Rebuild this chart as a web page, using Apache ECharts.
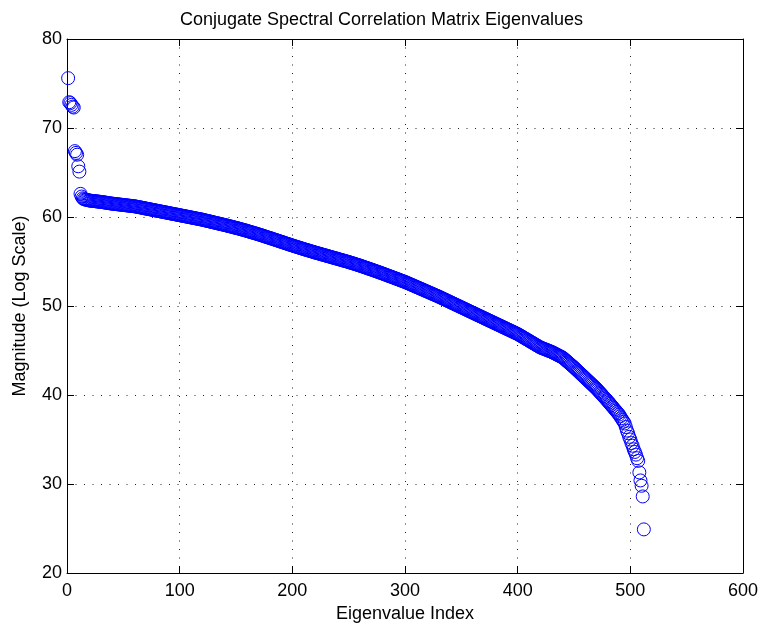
<!DOCTYPE html>
<html>
<head>
<meta charset="utf-8">
<script src="https://cdn.jsdelivr.net/npm/echarts@6/dist/echarts.min.js"></script>
<style>
html,body{margin:0;padding:0;background:#fff;}
#chart{width:763px;height:629px;}
</style>
</head>
<body>
<div id="chart"></div>
<script>
// ---- data ----
const chartTitle = 'Conjugate Spectral Correlation Matrix Eigenvalues';
const xAxisTitle = 'Eigenvalue Index';
const yAxisTitle = 'Magnitude (Log Scale)';
const xTicks = [0, 100, 200, 300, 400, 500, 600];
const yTicks = [20, 30, 40, 50, 60, 70, 80];
// eigenvalue magnitudes, in order of eigenvalue index 1..512
const magnitudes = [
 75.6, 72.9, 72.8, 72.6, 72.4, 72.3, 67.4, 67.2, 67.0, 65.7,
 65.1, 62.6, 62.3, 62.1, 62.0, 61.97, 61.94, 61.91, 61.88, 61.85,
 61.83, 61.82, 61.80, 61.79, 61.77, 61.76, 61.74, 61.73, 61.71, 61.70,
 61.68, 61.66, 61.64, 61.62, 61.60, 61.58, 61.56, 61.54, 61.52, 61.50,
 61.49, 61.47, 61.46, 61.44, 61.43, 61.41, 61.40, 61.38, 61.37, 61.35,
 61.34, 61.32, 61.31, 61.29, 61.28, 61.26, 61.25, 61.23, 61.22, 61.20,
 61.18, 61.15, 61.13, 61.10, 61.08, 61.05, 61.03, 61.00, 60.98, 60.95,
 60.93, 60.90, 60.88, 60.85, 60.83, 60.80, 60.78, 60.75, 60.73, 60.70,
 60.68, 60.65, 60.63, 60.60, 60.58, 60.55, 60.53, 60.50, 60.48, 60.45,
 60.43, 60.40, 60.38, 60.35, 60.33, 60.30, 60.28, 60.25, 60.23, 60.20,
 60.18, 60.15, 60.13, 60.10, 60.08, 60.05, 60.03, 60.00, 59.98, 59.95,
 59.93, 59.90, 59.88, 59.85, 59.83, 59.80, 59.78, 59.75, 59.73, 59.70,
 59.67, 59.64, 59.61, 59.58, 59.55, 59.52, 59.49, 59.46, 59.43, 59.40,
 59.37, 59.34, 59.31, 59.28, 59.25, 59.22, 59.19, 59.16, 59.13, 59.10,
 59.07, 59.04, 59.00, 58.97, 58.94, 58.91, 58.88, 58.84, 58.81, 58.78,
 58.75, 58.71, 58.68, 58.64, 58.61, 58.57, 58.54, 58.50, 58.47, 58.43,
 58.39, 58.35, 58.31, 58.28, 58.24, 58.20, 58.16, 58.13, 58.09, 58.05,
 58.01, 57.97, 57.93, 57.89, 57.85, 57.80, 57.76, 57.72, 57.68, 57.64,
 57.60, 57.56, 57.51, 57.47, 57.43, 57.39, 57.35, 57.30, 57.26, 57.22,
 57.18, 57.14, 57.09, 57.05, 57.01, 56.97, 56.93, 56.88, 56.84, 56.80,
 56.76, 56.72, 56.68, 56.64, 56.60, 56.56, 56.52, 56.48, 56.44, 56.40,
 56.36, 56.32, 56.29, 56.25, 56.21, 56.17, 56.13, 56.10, 56.06, 56.02,
 55.98, 55.95, 55.91, 55.88, 55.84, 55.80, 55.77, 55.73, 55.70, 55.66,
 55.62, 55.59, 55.55, 55.52, 55.48, 55.44, 55.41, 55.37, 55.34, 55.30,
 55.26, 55.23, 55.19, 55.16, 55.12, 55.08, 55.05, 55.01, 54.98, 54.94,
 54.90, 54.86, 54.82, 54.78, 54.74, 54.70, 54.66, 54.62, 54.58, 54.54,
 54.50, 54.45, 54.41, 54.36, 54.32, 54.28, 54.23, 54.19, 54.14, 54.10,
 54.06, 54.01, 53.97, 53.92, 53.88, 53.83, 53.79, 53.74, 53.70, 53.65,
 53.60, 53.56, 53.51, 53.46, 53.41, 53.37, 53.32, 53.27, 53.23, 53.18,
 53.13, 53.08, 53.04, 52.99, 52.94, 52.89, 52.84, 52.80, 52.75, 52.70,
 52.65, 52.59, 52.54, 52.48, 52.43, 52.37, 52.32, 52.26, 52.21, 52.15,
 52.10, 52.04, 51.99, 51.93, 51.88, 51.82, 51.77, 51.71, 51.66, 51.60,
 51.55, 51.49, 51.44, 51.38, 51.33, 51.27, 51.22, 51.16, 51.11, 51.05,
 50.99, 50.93, 50.87, 50.81, 50.75, 50.69, 50.63, 50.57, 50.51, 50.45,
 50.39, 50.33, 50.27, 50.21, 50.15, 50.09, 50.03, 49.97, 49.91, 49.85,
 49.79, 49.73, 49.67, 49.61, 49.55, 49.49, 49.43, 49.37, 49.31, 49.25,
 49.19, 49.13, 49.07, 49.01, 48.95, 48.89, 48.83, 48.77, 48.71, 48.65,
 48.59, 48.53, 48.47, 48.41, 48.35, 48.29, 48.23, 48.17, 48.11, 48.05,
 47.99, 47.93, 47.87, 47.81, 47.75, 47.69, 47.63, 47.57, 47.51, 47.45,
 47.39, 47.33, 47.27, 47.21, 47.15, 47.09, 47.03, 46.97, 46.91, 46.85,
 46.78, 46.70, 46.63, 46.55, 46.48, 46.40, 46.33, 46.25, 46.18, 46.10,
 46.03, 45.95, 45.88, 45.80, 45.73, 45.65, 45.58, 45.50, 45.43, 45.35,
 45.30, 45.25, 45.20, 45.15, 45.10, 45.05, 45.00, 44.95, 44.90, 44.85,
 44.79, 44.72, 44.66, 44.59, 44.53, 44.46, 44.40, 44.33, 44.27, 44.20,
 44.09, 43.98, 43.87, 43.76, 43.65, 43.54, 43.43, 43.32, 43.21, 43.10,
 42.98, 42.86, 42.74, 42.62, 42.50, 42.38, 42.26, 42.14, 42.02, 41.90,
 41.78, 41.66, 41.54, 41.42, 41.30, 41.18, 41.06, 40.94, 40.82, 40.70,
 40.56, 40.42, 40.28, 40.14, 40.00, 39.86, 39.72, 39.58, 39.44, 39.30,
 39.15, 39.00, 38.85, 38.70, 38.55, 38.40, 38.25, 38.10, 37.95, 37.80,
 37.6, 37.4, 37.2, 37.0, 36.8, 36.4, 36.0, 35.7, 35.3, 35.0,
 34.6, 34.3, 33.9, 33.6, 33.3, 32.9, 32.6, 31.3, 30.4, 29.8,
 28.6, 24.9
];

// ---- chart ----
const points = magnitudes.map((v, i) => [i + 1, v]);
const FONT = '"Liberation Sans", Arial, Helvetica, sans-serif';
const chart = echarts.init(document.getElementById('chart'), null, {renderer: 'canvas'});

const gridDash = {color: '#222', width: 1, type: [1, 7.5]};
function baseAxis(extra) {
  return Object.assign({
    type: 'value',
    axisLine: {show: true, onZero: false, lineStyle: {color: '#000', width: 1}},
    axisTick: {show: true, inside: true, length: 7, lineStyle: {color: '#000'}},
    splitLine: {show: false},
    axisLabel: {show: false}
  }, extra);
}

chart.setOption({
  animation: false,
  backgroundColor: '#fff',
  title: {
    text: chartTitle,
    left: 'center',
    top: 6,
    textStyle: {fontFamily: FONT, fontSize: 18, fontWeight: 'normal', color: '#000'}
  },
  grid: {left: 67, right: 20, top: 39, bottom: 56, containLabel: false},
  xAxis: [
    baseAxis({
      min: xTicks[0], max: xTicks[xTicks.length - 1], interval: 100,
      position: 'bottom',
      name: xAxisTitle, nameLocation: 'middle', nameGap: 28,
      nameTextStyle: {fontFamily: FONT, fontSize: 18, color: '#000'},
      axisLabel: {show: true, margin: 9, fontFamily: FONT, fontSize: 18, color: '#000'},
      splitLine: {show: true, lineStyle: gridDash}
    }),
    baseAxis({min: xTicks[0], max: xTicks[xTicks.length - 1], interval: 100, position: 'top'})
  ],
  yAxis: [
    baseAxis({
      min: yTicks[0], max: yTicks[yTicks.length - 1], interval: 10,
      position: 'left',
      name: yAxisTitle, nameLocation: 'middle', nameGap: 38, nameRotate: 90,
      nameTextStyle: {fontFamily: FONT, fontSize: 18, color: '#000'},
      axisLabel: {show: true, margin: 5, fontFamily: FONT, fontSize: 18, color: '#000'},
      splitLine: {show: true, lineStyle: gridDash}
    }),
    baseAxis({min: yTicks[0], max: yTicks[yTicks.length - 1], interval: 10, position: 'right'})
  ],
  series: [{
    type: 'scatter',
    xAxisIndex: 0,
    yAxisIndex: 0,
    data: points,
    symbol: 'circle',
    symbolSize: 13,
    large: false,
    itemStyle: {color: 'rgba(0,0,0,0)', borderColor: '#0000ff', borderWidth: 1, opacity: 1},
    emphasis: {disabled: true}
  }]
});
</script>
</body>
</html>
